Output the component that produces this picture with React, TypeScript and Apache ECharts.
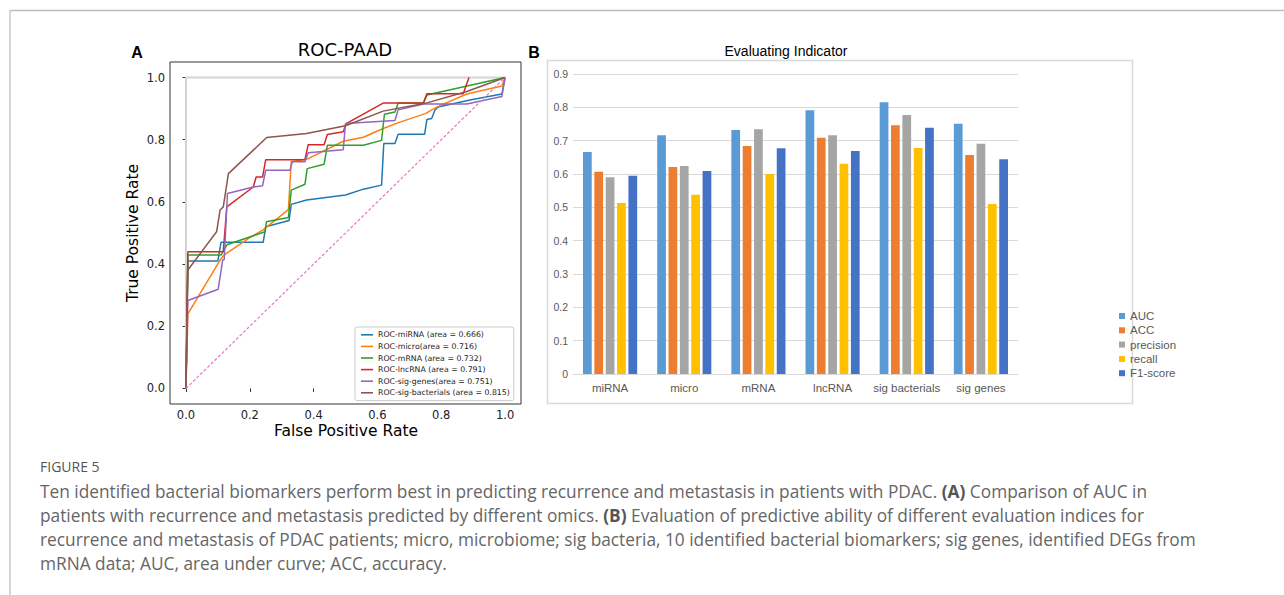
import React, { useEffect, useRef } from "react";
import * as echarts from "echarts";

// ---------- Panel A: ROC curves ----------
const rocNames = [
  "ROC-miRNA (area = 0.666)",
  "ROC-micro(area = 0.716)",
  "ROC-mRNA (area = 0.732)",
  "ROC-lncRNA (area = 0.791)",
  "ROC-sig-genes(area = 0.751)",
  "ROC-sig-bacterials (area = 0.815)",
];
const rocColors = ["#1f77b4", "#ff7f0e", "#2ca02c", "#d62728", "#9467bd", "#8c564b"];

const rocMiRNA = [[0,0],[0.006,0.41],[0.10,0.41],[0.11,0.47],[0.242,0.47],[0.25,0.52],[0.323,0.54],[0.33,0.592],[0.378,0.606],[0.5,0.622],[0.556,0.641],[0.613,0.654],[0.62,0.788],[0.655,0.788],[0.665,0.818],[0.748,0.818],[0.755,0.865],[0.77,0.868],[0.78,0.895],[0.79,0.905],[0.89,0.928],[0.99,0.947],[1.0,1.0]];
const rocMicro = [[0,0],[0.006,0.24],[0.107,0.413],[0.12,0.43],[0.2,0.485],[0.242,0.51],[0.321,0.575],[0.33,0.729],[0.383,0.739],[0.493,0.795],[0.556,0.808],[0.618,0.836],[0.666,0.855],[0.75,0.884],[0.786,0.905],[0.88,0.947],[0.99,0.973],[1.0,1.0]];
const rocMRNA = [[0,0],[0.006,0.429],[0.11,0.429],[0.128,0.462],[0.248,0.504],[0.252,0.536],[0.321,0.55],[0.33,0.638],[0.373,0.657],[0.38,0.707],[0.433,0.721],[0.443,0.782],[0.556,0.782],[0.613,0.798],[0.622,0.882],[0.655,0.889],[0.665,0.918],[0.745,0.918],[0.755,0.944],[1.0,1.0]];
const rocLncRNA = [[0,0],[0.006,0.44],[0.117,0.44],[0.128,0.584],[0.211,0.648],[0.22,0.68],[0.24,0.68],[0.25,0.736],[0.373,0.736],[0.383,0.784],[0.433,0.784],[0.443,0.817],[0.493,0.826],[0.502,0.852],[0.618,0.918],[0.744,0.918],[0.755,0.948],[0.869,0.948],[0.887,1.0]];
const rocSigGenes = [[0,0],[0.006,0.283],[0.101,0.319],[0.115,0.413],[0.12,0.415],[0.13,0.627],[0.211,0.648],[0.24,0.652],[0.25,0.702],[0.326,0.702],[0.333,0.729],[0.373,0.729],[0.383,0.758],[0.493,0.768],[0.5,0.852],[0.655,0.862],[0.665,0.896],[0.745,0.915],[0.88,0.915],[0.99,0.939],[1.0,1.0]];
const rocSigBacterials = [[0,0],[0.006,0.381],[0.096,0.504],[0.107,0.574],[0.117,0.584],[0.133,0.691],[0.253,0.807],[0.378,0.82],[0.5,0.845],[0.618,0.892],[0.75,0.917],[0.88,0.955],[1.0,1.0]];
const rocCurves = [rocMiRNA, rocMicro, rocMRNA, rocLncRNA, rocSigGenes, rocSigBacterials];
const perfectLine = [[0,0],[0,1],[1,1]];
const chanceLine = [[0,0],[1,1]];
const rocTicks = [0, 0.2, 0.4, 0.6, 0.8, 1.0];

// ---------- Panel B: evaluating indicators ----------
const categories = ["miRNA", "micro", "mRNA", "lncRNA", "sig bacterials", "sig genes"];
const metricNames = ["AUC", "ACC", "precision", "recall", "F1-score"];
const metricColors = ["#5B9BD5", "#ED7D31", "#A5A5A5", "#FFC000", "#4472C4"];
const aucValues = [0.666, 0.716, 0.732, 0.791, 0.815, 0.751];
const accValues = [0.607, 0.621, 0.684, 0.709, 0.746, 0.657];
const precisionValues = [0.590, 0.624, 0.734, 0.716, 0.777, 0.691];
const recallValues = [0.513, 0.538, 0.600, 0.631, 0.678, 0.510];
const f1Values = [0.595, 0.609, 0.677, 0.669, 0.739, 0.644];
const metricValues = [aucValues, accValues, precisionValues, recallValues, f1Values];

// ---------- Caption ----------
const captionHead = "FIGURE 5";
const captionLines = [
  "Ten identified bacterial biomarkers perform best in predicting recurrence and metastasis in patients with PDAC. {b|(A)} Comparison of AUC in",
  "patients with recurrence and metastasis predicted by different omics. {b|(B)} Evaluation of predictive ability of different evaluation indices for",
  "recurrence and metastasis of PDAC patients; micro, microbiome; sig bacteria, 10 identified bacterial biomarkers; sig genes, identified DEGs from",
  "mRNA data; AUC, area under curve; ACC, accuracy.",
];

const MPL = "'DejaVu Sans', sans-serif";
const XL = "'Liberation Sans', Arial, sans-serif";
const CAP = "'Open Sans', 'Noto Sans', sans-serif";
const CAP_SIZE = 17.3;

export default function App() {
  const ref = useRef<HTMLDivElement>(null);
  useEffect(() => {
    document.body.style.margin = "0";
    const chart = echarts.init(ref.current!, null, { renderer: "svg" });

    const rocSeries: any[] = [
      {
        type: "line", xAxisIndex: 0, yAxisIndex: 0, data: perfectLine, showSymbol: false, silent: true,
        lineStyle: { color: "#d3d3d3", width: 2 }, z: 1,
      },
      ...rocCurves.map((d, i) => ({
        name: rocNames[i], type: "line", xAxisIndex: 0, yAxisIndex: 0, data: d,
        showSymbol: false, symbol: "none", color: rocColors[i],
        lineStyle: { color: rocColors[i], width: 1.5 }, z: 2 + i,
      })),
      {
        type: "line", xAxisIndex: 0, yAxisIndex: 0, data: chanceLine, showSymbol: false, silent: true,
        lineStyle: { color: "#e377c2", width: 1.2, type: [3, 2] }, z: 10,
      },
    ];

    const barSeries = metricValues.map((vals, i) => ({
      name: metricNames[i], type: "bar", xAxisIndex: 1, yAxisIndex: 1, data: vals,
      color: metricColors[i], itemStyle: { color: metricColors[i] },
      barGap: "30%", barCategoryGap: "27%",
    }));

    const captionGraphics = captionLines.map((t, i) => ({
      type: "text", x: 40, y: 491 + i * 24,
      style: {
        text: t, font: `${CAP_SIZE}px ${CAP}`, fill: "#666", verticalAlign: "middle", align: "left",
        rich: { b: { fontWeight: "bold", fontSize: CAP_SIZE, fontFamily: CAP, fill: "#555", color: "#555" } },
      },
    }));

    chart.setOption({
      animation: false,
      backgroundColor: "#ffffff",
      grid: [
        { left: 170, top: 62, width: 351, height: 342, show: true, borderColor: "#333", borderWidth: 1, backgroundColor: "transparent" },
        { left: 573, top: 74, width: 445, height: 300 },
      ],
      xAxis: [
        {
          gridIndex: 0, type: "value", min: -0.05, max: 1.05,
          axisLine: { show: false }, splitLine: { show: false },
          axisTick: { show: true, customValues: rocTicks, length: 3.5, lineStyle: { color: "#333" } },
          axisLabel: { customValues: rocTicks, margin: 5, fontSize: 11.5, color: "#222", fontFamily: MPL, formatter: (v: number) => v.toFixed(1) },
        },
        {
          gridIndex: 1, type: "category", data: categories,
          axisTick: { show: false }, axisLine: { lineStyle: { color: "#d9d9d9", width: 1 } },
          axisLabel: { interval: 0, fontSize: 11.5, color: "#595959", fontFamily: XL, margin: 8 },
        },
      ],
      yAxis: [
        {
          gridIndex: 0, type: "value", min: -0.05, max: 1.05,
          axisLine: { show: false }, splitLine: { show: false },
          axisTick: { show: true, customValues: rocTicks, length: 3.5, lineStyle: { color: "#333" } },
          axisLabel: { customValues: rocTicks, margin: 5, fontSize: 11.5, color: "#222", fontFamily: MPL, formatter: (v: number) => v.toFixed(1) },
        },
        {
          gridIndex: 1, type: "value", min: 0, max: 0.9, interval: 0.1,
          axisLine: { show: false }, axisTick: { show: false },
          splitLine: { lineStyle: { color: "#d9d9d9", width: 1 } },
          axisLabel: { fontSize: 10.5, color: "#595959", fontFamily: XL, margin: 5, formatter: (v: number) => (v === 0 ? "0" : v.toFixed(1)) },
        },
      ],
      legend: [
        {
          data: rocNames, orient: "vertical", left: 355, top: 327,
          icon: "rect", itemWidth: 12, itemHeight: 1.6, itemGap: 2,
          backgroundColor: "#fff", borderColor: "#cccccc", borderWidth: 1, borderRadius: 2,
          padding: [3, 4, 3, 6],
          textStyle: { fontSize: 7.8, lineHeight: 9.6, color: "#222", fontFamily: MPL },
          itemStyle: { borderWidth: 0 },
        },
        {
          data: metricNames, orient: "vertical", left: 1114, top: 305,
          icon: "rect", itemWidth: 6, itemHeight: 6, itemGap: 2.3,
          textStyle: { fontSize: 11.5, lineHeight: 12, color: "#595959", fontFamily: XL },
        },
      ],
      series: [...rocSeries, ...barSeries],
      graphic: [
        { type: "line", shape: { x1: 10, y1: 10.5, x2: 1284, y2: 10.5 }, style: { stroke: "#bdbdbd", lineWidth: 1.5 } },
        { type: "line", shape: { x1: 10, y1: 10, x2: 10, y2: 595 }, style: { stroke: "#c8c8c8", lineWidth: 1.5 } },
        { type: "rect", shape: { x: 547.5, y: 60.5, width: 585, height: 343 }, style: { fill: "none", stroke: "#d9d9d9", lineWidth: 1.5 }, z: -1 },
        { type: "text", x: 137, y: 52, style: { text: "A", font: `bold 16px ${XL}`, fill: "#000", align: "center", verticalAlign: "middle" } },
        { type: "text", x: 534, y: 52, style: { text: "B", font: `bold 16px ${XL}`, fill: "#000", align: "center", verticalAlign: "middle" } },
        { type: "text", x: 345, y: 49, style: { text: "ROC-PAAD", font: `18px ${MPL}`, fill: "#000", align: "center", verticalAlign: "middle" } },
        { type: "text", x: 786, y: 51, style: { text: "Evaluating Indicator", font: `14px ${XL}`, fill: "#000", align: "center", verticalAlign: "middle" } },
        { type: "text", x: 346, y: 431, style: { text: "False Positive Rate", font: `15.5px ${MPL}`, fill: "#000", align: "center", verticalAlign: "middle" } },
        { type: "text", x: 133, y: 233, rotation: Math.PI / 2, style: { text: "True Positive Rate", font: `15.5px ${MPL}`, fill: "#000", align: "center", verticalAlign: "middle" } },
        { type: "text", x: 40, y: 466, style: { text: captionHead, font: `14px ${CAP}`, fill: "#555", align: "left", verticalAlign: "middle" } },
        ...captionGraphics,
      ],
    });
    return () => chart.dispose();
  }, []);
  return <div ref={ref} style={{ position: "absolute", left: 0, top: 0, width: 1284, height: 595 }} />;
}
